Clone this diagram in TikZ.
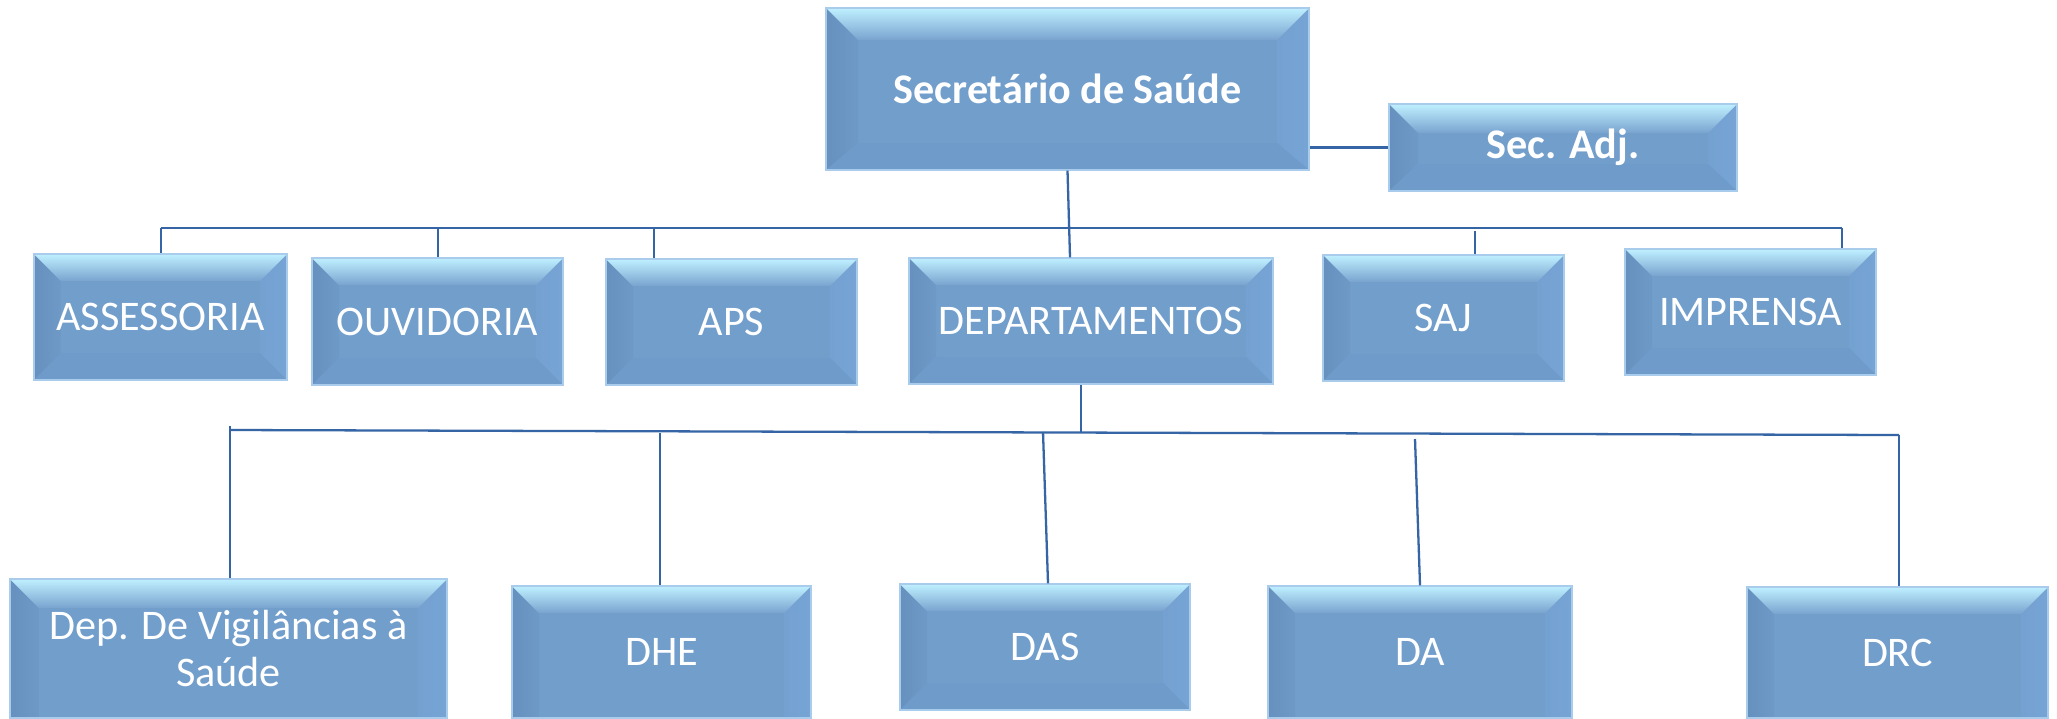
\documentclass[tikz,border=0pt]{standalone}
\usepackage{fontspec}
\setmainfont{Carlito}
\definecolor{mainc}{HTML}{729ECC}
\definecolor{topc}{HTML}{BFF0FF}
\definecolor{midc}{HTML}{8FBDE9}
\definecolor{leftc}{HTML}{6690BD}
\definecolor{rightc}{HTML}{76A4D5}
\definecolor{botc}{HTML}{6F9BCA}
\definecolor{bordc}{HTML}{A9CCEC}
\definecolor{linec}{HTML}{3565A5}
\tikzset{
  bevw/.store in=\bevw, bevw=0.54cm,
  bevbot/.store in=\bevbot, bevbot=0.54cm,
  bbox/.style={draw=bordc, line width=0.7pt, fill=mainc, text=white, inner sep=0pt,
    align=center, font=\fontsize{24}{27}\selectfont,
    path picture={
      \coordinate (p-nw) at (path picture bounding box.north west);
      \coordinate (p-ne) at (path picture bounding box.north east);
      \coordinate (p-sw) at (path picture bounding box.south west);
      \coordinate (p-se) at (path picture bounding box.south east);
      \shade[left color=leftc, right color=leftc!30!mainc]
        (p-nw) -- ([shift={(\bevw,-\bevw)}]p-nw) -- ([shift={(\bevw,\bevbot)}]p-sw) -- (p-sw) -- cycle;
      \shade[left color=rightc!50!mainc, right color=rightc]
        (p-ne) -- ([shift={(-\bevw,-\bevw)}]p-ne) -- ([shift={(-\bevw,\bevbot)}]p-se) -- (p-se) -- cycle;
      \fill[botc]
        (p-sw) -- ([shift={(\bevw,\bevbot)}]p-sw) -- ([shift={(-\bevw,\bevbot)}]p-se) -- (p-se) -- cycle;
      \shade[top color=topc, middle color=midc, bottom color=mainc!95!white]
        (p-nw) -- (p-ne) -- ([shift={(-\bevw,-\bevw)}]p-ne) -- ([shift={(\bevw,-\bevw)}]p-nw) -- cycle;
    }},
  boldtext/.style={font=\fontsize{24}{27}\selectfont\bfseries},
  cut/.style={bevbot=0cm},
  conn/.style={draw=linec, line width=1.3pt}
}
\newcommand{\obox}[7][]{%
  \node[bbox,#1,minimum width={(#5-#3)*0.02cm},minimum height={(#6-#4)*0.02cm}]
    (#2) at ({(#3+#5)/2},{(#4+#6)/2}) {#7};}
\begin{document}
\begin{tikzpicture}[x=0.02cm,y=-0.02cm]
\useasboundingbox (0,0) rectangle (2057,718);
\clip (0,0) rectangle (2057,718);
\fill[white] (0,0) rectangle (2057,718);

% junction coordinates
\coordinate (tbL) at (161,228);
\coordinate (tbR) at (1842,228);
\coordinate (jouv) at (438,228);
\coordinate (japs) at (654,228);
\coordinate (jdep) at (1070,228);
\coordinate (jsaj) at (1475,231);
\coordinate (lbT) at (1081,433);
\coordinate (lbL) at (230,430);
\coordinate (lbLt) at (230,426);
\coordinate (lbR) at (1899,435);
\coordinate (jdhe) at (660,433);
\coordinate (jdas) at (1043,432);
\coordinate (jdasb) at (1048,0);
\coordinate (jda) at (1415,439);
\coordinate (jdab) at (1420,0);

% boxes
\obox[bevw=0.64cm,boldtext]{sec}{826}{8}{1309}{170}{Secretário de Saúde}
\obox[bevw=0.58cm,boldtext]{adj}{1389}{104}{1737}{191}{Sec. Adj.}
\obox{ass}{34}{254}{287}{380}{ASSESSORIA}
\obox{ouv}{312}{258}{563}{385}{OUVIDORIA}
\obox{aps}{606}{259}{857}{385}{APS}
\obox{dep}{909}{258}{1273}{384}{DEPARTAMENTOS}
\obox{saj}{1323}{255}{1564}{381}{SAJ}
\obox{imp}{1625}{249}{1876}{375}{IMPRENSA}
\obox[cut,bevw=0.58cm]{vig}{10}{579}{447}{718}{Dep. De Vigilâncias à\\Saúde}
\obox[cut]{dhe}{512}{586}{811}{718}{DHE}
\obox{das}{900}{584}{1190}{710}{DAS}
\obox[cut]{da}{1268}{586}{1572}{718}{DA}
\obox[cut]{drc}{1747}{587}{2048}{718}{DRC}

% top level connectors
\draw[conn] (adj.west -| sec.east) -- (adj.west);
\draw[conn] (tbL) -- (tbR);
\draw[conn] (tbL) -- (tbL |- ass.north);
\draw[conn] (jouv) -- (jouv |- ouv.north);
\draw[conn] (japs) -- (japs |- aps.north);
\draw[conn] (sec.south) -- (jdep |- dep.north);
\draw[conn] (jsaj) -- (jsaj |- saj.north);
\draw[conn] (tbR) -- (tbR |- imp.north);

% lower connectors
\draw[conn] (lbT |- dep.south) -- (lbT);
\draw[conn] (lbL) -- (lbR);
\draw[conn] (lbLt) -- (lbLt |- vig.north);
\draw[conn] (jdhe) -- (jdhe |- dhe.north);
\draw[conn] (jdas) -- (jdasb |- das.north);
\draw[conn] (jda) -- (jdab |- da.north);
\draw[conn] (lbR) -- (lbR |- drc.north);
\end{tikzpicture}
\end{document}
